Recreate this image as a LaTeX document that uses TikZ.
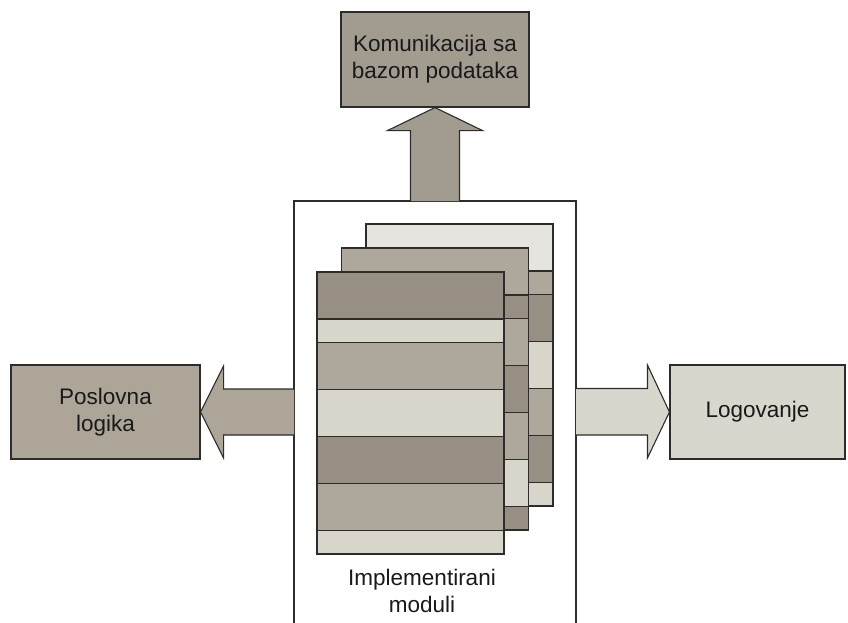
\documentclass[tikz,border=0pt]{standalone}
\usepackage{fontspec}
\setmainfont{Liberation Sans}
\usetikzlibrary{calc}
\definecolor{edge}{HTML}{2E2C2A}
\definecolor{stoneDark}{HTML}{978F83}
\definecolor{stoneMid}{HTML}{AEA79B}
\definecolor{stoneLight}{HTML}{D8D5CB}
\definecolor{stonePale}{HTML}{E6E4DF}
\definecolor{boxTop}{HTML}{A29B8F}
\definecolor{boxLeft}{HTML}{ACA598}
\definecolor{boxRight}{HTML}{D9D6CD}

\begin{document}
\begin{tikzpicture}[x=1pt,y=-1pt,
  outline/.style={draw=edge,line width=1.1pt},
  block/.style={outline,rectangle,inner sep=0pt,align=center,
    font=\fontsize{22.5}{27}\selectfont,text=black!90},
  label text/.style={inner sep=0pt,align=center,
    font=\fontsize{22.5}{27}\selectfont,text=black!90},
  stripe/.style={outline,fill=#1},
]
\useasboundingbox (0,0) rectangle (848,622);

% the three outer modules
\node[block,fill=boxTop,minimum width=188pt,minimum height=95pt]
  (db) at (435,59.5) {Komunikacija sa\\bazom podataka};
\node[block,fill=boxLeft,minimum width=189pt,minimum height=94pt]
  (biz) at (105.5,412) {Poslovna\\logika};
\node[block,fill=boxRight,minimum width=175pt,minimum height=94pt]
  (log) at (757.5,412) {Logovanje};

% container of the implemented modules (open at the bottom)
\coordinate (mainNW) at (294,201);
\coordinate (mainNE) at (576,201);
\coordinate (main) at (435,201);
\draw[outline,fill=white] (294,630) -- (mainNW) -- (mainNE) -- (576,630);

% block arrows from the container to the outer modules
\draw[outline,fill=boxTop]
  ($(main)+(-24.5,0)$) -- ($(db.south)+(-24.5,23)$) -- ($(db.south)+(-47.5,23)$)
  -- (db.south) -- ($(db.south)+(47.5,23)$) -- ($(db.south)+(24.5,23)$)
  -- ($(main)+(24.5,0)$);
\draw[outline,fill=boxLeft]
  ($(294,412)+(0,-23)$) -- ($(biz.east)+(23,-23)$) -- ($(biz.east)+(23,-46)$)
  -- (biz.east) -- ($(biz.east)+(23,46)$) -- ($(biz.east)+(23,23)$)
  -- ($(294,412)+(0,23)$);
\draw[outline,fill=boxRight]
  ($(576,412)+(0,-23.5)$) -- ($(log.west)+(-22,-23.5)$) -- ($(log.west)+(-22,-47)$)
  -- (log.west) -- ($(log.west)+(-22,46)$) -- ($(log.west)+(-22,23)$)
  -- ($(576,412)+(0,23)$);

% stacked pages: each page is split into stripes of 2,1,2,2,2,2,1 units
\def\pagew{187}
\def\u{23.5}
\foreach \px/\py/\ca/\cb/\cc/\cd/\ce/\cf/\cg in {
  366/224/stonePale/stoneMid/stoneDark/stoneLight/stoneMid/stoneDark/stoneLight,
  341.5/248/stoneMid/stoneDark/stoneMid/stoneDark/stoneMid/stoneLight/stoneDark,
  317/272/stoneDark/stoneLight/stoneMid/stoneLight/stoneDark/stoneMid/stoneLight}{
  \begin{scope}[shift={(\px,\py)}]
    \draw[stripe=\ca] (0,0)       rectangle (\pagew,2*\u);
    \draw[stripe=\cb] (0,2*\u)    rectangle (\pagew,3*\u);
    \draw[stripe=\cc] (0,3*\u)    rectangle (\pagew,5*\u);
    \draw[stripe=\cd] (0,5*\u)    rectangle (\pagew,7*\u);
    \draw[stripe=\ce] (0,7*\u)    rectangle (\pagew,9*\u);
    \draw[stripe=\cf] (0,9*\u)    rectangle (\pagew,11*\u);
    \draw[stripe=\cg] (0,11*\u)   rectangle (\pagew,12*\u);
  \end{scope}
}

\node[label text] (modules) at (422,591) {Implementirani\\moduli};
\end{tikzpicture}
\end{document}
